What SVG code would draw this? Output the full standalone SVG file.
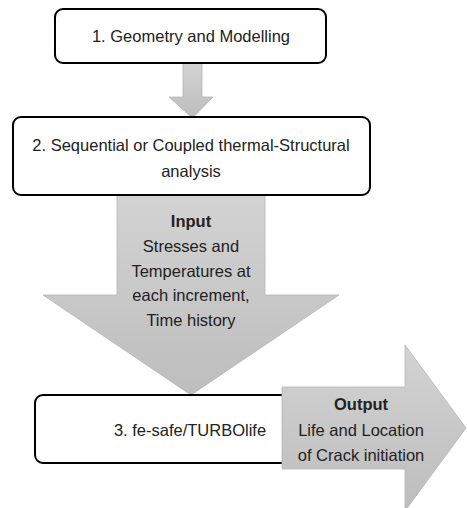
<svg xmlns="http://www.w3.org/2000/svg" width="467" height="508" viewBox="0 0 467 508">
<defs>
<linearGradient id="g" x1="0" y1="0" x2="0" y2="1">
<stop offset="0" stop-color="#d3d3d3"/>
<stop offset="1" stop-color="#bdbdbd"/>
</linearGradient>
</defs>
<style>
.box{fill:#fff;stroke:#000;stroke-width:2}
.arr{stroke:#b5b5b5;stroke-width:0.8}
text{font-family:"Liberation Sans",Arial,sans-serif;font-size:16.5px;fill:#222;text-anchor:middle}
.b{font-weight:bold}
</style>
<g id="connectors">
<polygon id="arrow1" class="arr" fill="url(#g)" points="183,63 202,63 202,97 213,97 192.5,118 169,97 183,97"/>
<polygon id="arrow2" class="arr" fill="url(#g)" points="117,195 265,195 265,295 339,295 191,395 43,295 117,295"/>
</g>
<g id="node1">
<rect class="box" x="55" y="9" width="271" height="54" rx="8"/>
<text x="191" y="42">1. Geometry and Modelling</text>
</g>
<g id="node2">
<rect class="box" x="13" y="117" width="357" height="78" rx="8"/>
<text x="191" y="151">2. Sequential or Coupled thermal-Structural</text>
<text x="191" y="177">analysis</text>
</g>
<g id="input-label">
<text class="b" x="191" y="227">Input</text>
<text x="191" y="252">Stresses and</text>
<text x="191" y="277">Temperatures at</text>
<text x="191" y="301">each increment,</text>
<text x="191" y="326">Time history</text>
</g>
<g id="node3">
<rect class="box" x="35" y="395" width="270" height="68" rx="8"/>
<text x="190" y="436">3. fe-safe/TURBOlife</text>
</g>
<g id="output">
<polygon class="arr" fill="url(#g)" points="282,387 405,387 405,345 466,428 405,511 405,469 282,469"/>
<text class="b" x="361" y="410">Output</text>
<text x="361" y="436">Life and Location</text>
<text x="361" y="461">of Crack initiation</text>
</g>
</svg>
